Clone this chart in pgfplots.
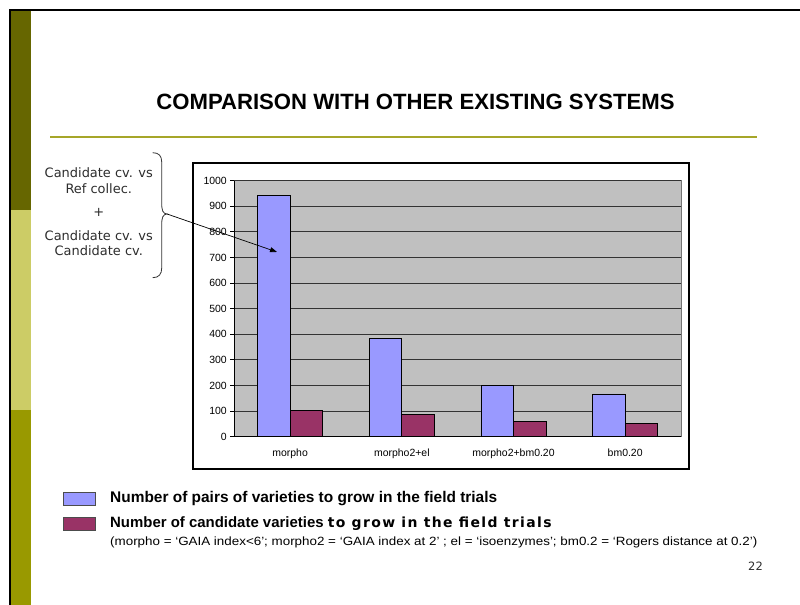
\documentclass[border=0pt]{standalone}
\usepackage{pgfplots}
\pgfplotsset{compat=1.18}
\usepackage{fontspec}
\setmainfont{Liberation Sans}
\newfontfamily\verdana{DejaVu Sans}
\usetikzlibrary{arrows.meta}

\definecolor{darkolive}{RGB}{102,102,0}
\definecolor{lightolive}{RGB}{204,204,102}
\definecolor{midolive}{RGB}{153,153,0}
\definecolor{ruleolive}{RGB}{166,166,41}
\definecolor{pairblue}{RGB}{153,153,255}
\definecolor{candplum}{RGB}{153,51,102}
\definecolor{plotgrey}{RGB}{192,192,192}
\definecolor{textgrey}{RGB}{45,45,45}

\begin{document}
\begin{tikzpicture}[x=1bp,y=1bp]
% slide canvas
\path[use as bounding box, fill=white] (0,0) rectangle (800,605);
% coloured band on the left
\fill[midolive]   (10.7,0)   rectangle (31,195);
\fill[lightolive] (10.7,195) rectangle (31,395);
\fill[darkolive]  (10.7,395) rectangle (31,594.3);
% slide border
\fill[black] (8.7,0) rectangle (10.7,596);
\fill[black] (8.7,594.3) rectangle (800,596);

% title and rule
\node[font=\bfseries\fontsize{22.2}{26}\selectfont] at (415.5,503) {COMPARISON WITH OTHER EXISTING SYSTEMS};
\draw[ruleolive, line width=2bp] (50,468) -- (757,468);

% chart frame
\draw[black, line width=1.1bp] (193,136) rectangle (689,442);

\begin{axis}[
  at={(234.3bp,168.3bp)}, anchor=south west,
  scale only axis, width=446.7bp, height=256bp,
  xmin=-0.5, xmax=3.5, ymin=0, ymax=1000,
  ybar=0pt, bar width=32.5bp,
  xtick={0,1,2,3},
  xticklabels={morpho, morpho2+el, morpho2+bm0.20, bm0.20},
  minor xtick={-0.5,0.5,1.5,2.5,3.5},
  ytick={0,100,...,1000},
  axis x line*=bottom, axis y line*=left,
  tick align=outside, major tick length=4bp, minor tick length=4bp,
  xtick style={draw=none},
  minor tick style={black, line width=0.8bp},
  ytick style={black, line width=0.8bp},
  axis line style={black, line width=0.9bp, -},
  axis background/.style={fill=plotgrey, draw=black!55},
  ymajorgrids, grid style={black!80, line width=0.9bp},
  tick label style={font=\fontsize{10.5}{12}\selectfont, black},
  /pgf/number format/assume math mode=true,
  /pgf/number format/1000 sep={},
  xticklabel style={yshift=-5bp},
]
\addplot[fill=pairblue, draw=black, line width=0.8bp]
  coordinates {(0,941) (1,384) (2,201) (3,167)};
\addplot[fill=candplum, draw=black, line width=0.8bp]
  coordinates {(0,104) (1,88) (2,59) (3,52)};
\end{axis}

% annotation with brace and arrow
\begin{scope}[textgrey, font=\verdana\fontsize{13}{15}\selectfont]
\node[anchor=base] at (98.8,427) {Candidate cv. vs};
\node[anchor=base] at (98.8,411.3) {Ref collec.};
\node at (98.8,392.3) {+};
\node[anchor=base] at (98.8,364.3) {Candidate cv. vs};
\node[anchor=base] at (98.8,349.7) {Candidate cv.};
\end{scope}
\draw[black!80, line width=0.8bp]
  (152.7,452.3) .. controls (159,452.3) and (161.7,449) .. (161.7,443)
  -- (161.7,402) .. controls (161.7,394) and (163,391.5) .. (167,391)
  .. controls (163,390.5) and (161.7,388) .. (161.7,380)
  -- (161.7,337) .. controls (161.7,331) and (159,327.3) .. (152.7,327.3);
\draw[black, line width=0.7bp, -{Triangle[length=7bp,width=5bp]}] (167,391) -- (277,353);

% legend
\draw[fill=pairblue, draw=black!70, line width=0.8bp] (63.3,100) rectangle (95,112.3);
\draw[fill=candplum, draw=black!70, line width=0.8bp] (63.3,75) rectangle (95,87.3);
\node[anchor=west, inner sep=0pt, font=\bfseries\fontsize{15.5}{17}\selectfont] at (110,106)
  {Number of pairs of varieties to grow in the field trials};
\node[anchor=west, inner sep=0pt, font=\fontsize{15}{17}\selectfont] at (110,81)
  {\bfseries Number of candidate varieties {\verdana\bfseries\fontsize{14}{17}\selectfont\addfontfeature{LetterSpace=10}to grow in the field trials}};
\node[anchor=west, inner sep=0pt, font=\fontsize{12}{14}\selectfont\addfontfeature{FakeStretch=1.12}] at (110,63)
  {(morpho = ‘GAIA index<6’; morpho2 = ‘GAIA index at 2’ ; el = ‘isoenzymes’; bm0.2 = ‘Rogers distance at 0.2’)};

% page number
\node[textgrey, font=\verdana\fontsize{11.5}{13}\selectfont] at (755.5,38.3) {22};
\end{tikzpicture}
\end{document}
